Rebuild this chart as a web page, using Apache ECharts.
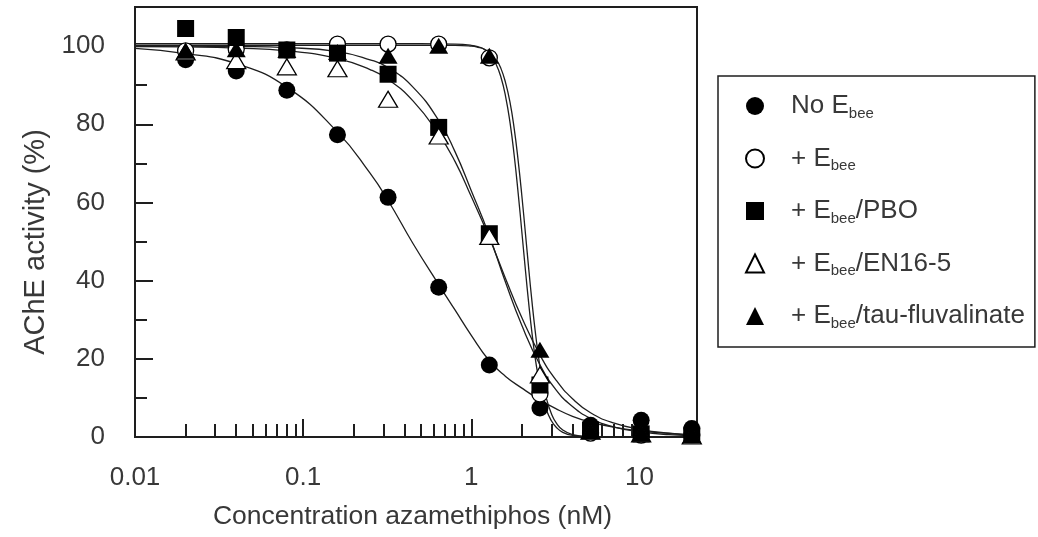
<!DOCTYPE html>
<html>
<head>
<meta charset="utf-8">
<script src="https://cdn.jsdelivr.net/npm/echarts@6/dist/echarts.min.js"></script>
<style>
  html, body { margin: 0; padding: 0; background: #ffffff; }
  #chart { width: 1038px; height: 537px; }
</style>
</head>
<body>
<div id="chart"></div>
<script>
// Azamethiphos concentrations (nM) at which AChE activity was measured
const concentrations = [0.02, 0.04, 0.08, 0.16, 0.32, 0.64, 1.28, 2.56, 5.12, 10.24, 20.48];

// Measured AChE activity (%) per treatment
const noEbee      = [96.5, 93.6, 88.7, 77.3, 61.3, 38.3, 18.4, 7.4, 3.0, 4.3, 2.2];
const plusEbee    = [98.8, 99.2, 99.0, 100.5, 100.5, 100.5, 97.0, 11.0, 1.0, 0.5, 0.5];
const ebeePBO     = [104.5, 102.2, 99.0, 98.2, 92.8, 79.2, 52.0, 13.3, 1.8, 0.8, 0.5];
const ebeeEN165   = [98.5, 96.3, 94.7, 94.2, 86.4, 77.0, 51.3, 15.9, 1.5, 0.8, 0.3];
const ebeeTau     = [98.8, 99.2, 99.0, 98.5, 97.5, 100.1, 97.5, 22.3, 1.5, 0.8, 0.5];

// Fitted dose-response curves, sampled along the concentration axis
const fitX = [0.01, 0.02, 0.04, 0.08, 0.16, 0.25, 0.32, 0.45, 0.64, 0.8, 1.0, 1.28, 1.6, 2.0, 2.56, 3.2, 4.0, 5.12, 7.0, 10.24, 15, 22];
const fitNoEbee = [99.4, 98.1, 95.5, 89.5, 78.0, 67.5, 60.5, 49.5, 39.0, 32.5, 26.0, 19.5, 15.5, 12.5, 9.5, 7.2, 5.3, 3.8, 2.5, 1.5, 0.9, 0.5];
const fitPBO    = [100.0, 100.0, 99.9, 99.6, 98.6, 96.5, 94.5, 89.5, 81.0, 73.0, 63.0, 51.5, 39.5, 28.5, 18.5, 12.0, 7.8, 4.8, 2.6, 1.3, 0.6, 0.3];
const fitEN165  = [99.9, 99.8, 99.5, 98.8, 96.8, 94.0, 91.5, 86.0, 77.5, 70.5, 61.5, 51.0, 40.5, 30.5, 21.0, 14.5, 9.8, 6.2, 3.6, 1.9, 1.0, 0.5];

const steepX = [0.01, 0.1, 0.5, 0.8, 1.0, 1.1, 1.2, 1.3, 1.4, 1.5, 1.6, 1.7, 1.8, 1.9, 2.0, 2.1, 2.2, 2.3, 2.4, 2.5, 2.6, 2.8, 3.0, 3.2, 3.5, 4.0, 5.0, 7.0, 22];
const fitEbee = [100.6, 100.6, 100.6, 100.5, 100.2, 99.8, 99.1, 97.7, 95.5, 92.1, 87.1, 80.4, 72.0, 62.4, 52.3, 42.6, 33.8, 26.3, 20.2, 15.5, 11.8, 6.9, 4.1, 2.5, 1.2, 0.4, 0.1, 0.0, 0.0];
const fitTau  = [100.2, 100.2, 100.2, 100.2, 100.0, 99.7, 99.2, 98.2, 96.7, 94.3, 90.6, 85.6, 78.9, 70.7, 61.6, 52.0, 42.7, 34.3, 27.1, 21.1, 16.4, 9.8, 5.9, 3.6, 1.8, 0.6, 0.1, 0.0, 0.0];

// Axis ticks and labels
const xMajorTicks = [0.01, 0.1, 1, 10];
const xTickLabels = ['0.01', '0.1', '1', '10'];
const xMinorTicks = [0.02, 0.03, 0.04, 0.05, 0.06, 0.07, 0.08, 0.09,
                     0.2, 0.3, 0.4, 0.5, 0.6, 0.7, 0.8, 0.9,
                     2, 3, 4, 5, 6, 7, 8, 9, 20];
const yMajorTicks = [0, 20, 40, 60, 80, 100];
const yMinorTicks = [10, 30, 50, 70, 90];

const seriesNames = ['No Ebee', '+ Ebee', '+ Ebee/PBO', '+ Ebee/EN16-5', '+ Ebee/tau-fluvalinate'];

const FONT = 'Liberation Sans, Arial, Helvetica, sans-serif';
const INK = '#1e1e1e';
const TEXT = '#383838';

const pairs = (xs, ys) => xs.map((x, i) => [x, ys[i]]);

function fitLine(name, xs, ys) {
  return {
    name: name,
    type: 'line',
    data: pairs(xs, ys),
    showSymbol: false,
    smooth: 0.5,
    silent: true,
    z: 2,
    lineStyle: { color: INK, width: 1.3 },
    clip: true
  };
}

function points(name, ys, symbol, size, filled) {
  return {
    name: name,
    type: 'scatter',
    data: pairs(concentrations, ys),
    symbol: symbol,
    symbolSize: size,
    clip: false,
    z: 4,
    itemStyle: filled
      ? { color: '#000000', borderColor: '#000000', borderWidth: 0, opacity: 1 }
      : { color: '#ffffff', borderColor: '#000000', borderWidth: 1.3, opacity: 1 }
  };
}

const chart = echarts.init(document.getElementById('chart'), null, { renderer: 'canvas' });

const axisLineStyle = { color: INK, width: 2 };

chart.setOption({
  animation: false,
  backgroundColor: '#ffffff',
  grid: {
    left: 135, right: 341, top: 7, bottom: 100,
    show: true, borderColor: INK, borderWidth: 2, backgroundColor: 'transparent'
  },
  xAxis: [
    {
      type: 'log', logBase: 10, min: 0.01, max: 22, position: 'bottom',
      axisLine: { show: true, onZero: false, lineStyle: axisLineStyle },
      axisTick: { show: true, inside: true, length: 18, customValues: xMajorTicks, lineStyle: axisLineStyle },
      axisLabel: {
        show: true, customValues: xMajorTicks, margin: 28,
        fontFamily: FONT, fontSize: 26, color: TEXT,
        formatter: v => {
          const i = xMajorTicks.findIndex(t => Math.abs(Math.log10(t) - Math.log10(v)) < 1e-6);
          return i >= 0 ? xTickLabels[i] : '';
        }
      },
      splitLine: { show: false },
      minorTick: { show: false },
      name: 'Concentration azamethiphos (nM)',
      nameLocation: 'middle', nameGap: 66,
      nameTextStyle: { fontFamily: FONT, fontSize: 26.5, color: TEXT, padding: [0, 7, 0, 0] }
    },
    {
      type: 'log', logBase: 10, min: 0.01, max: 22, position: 'bottom',
      axisLine: { show: false },
      axisTick: { show: true, inside: true, length: 13, customValues: xMinorTicks, lineStyle: axisLineStyle },
      axisLabel: { show: false },
      splitLine: { show: false }
    }
  ],
  yAxis: [
    {
      type: 'value', min: 0, max: 110, position: 'left',
      axisLine: { show: true, onZero: false, lineStyle: axisLineStyle },
      axisTick: { show: true, inside: true, length: 18, customValues: yMajorTicks, lineStyle: axisLineStyle },
      axisLabel: {
        show: true, customValues: yMajorTicks, margin: 30,
        fontFamily: FONT, fontSize: 26, color: TEXT
      },
      splitLine: { show: false },
      name: 'AChE activity (%)',
      nameLocation: 'middle', nameGap: 84,
      nameTextStyle: { fontFamily: FONT, fontSize: 29, color: TEXT, padding: [0, 40, 0, 0] }
    },
    {
      type: 'value', min: 0, max: 110, position: 'left',
      axisLine: { show: false },
      axisTick: { show: true, inside: true, length: 12, customValues: yMinorTicks, lineStyle: axisLineStyle },
      axisLabel: { show: false },
      splitLine: { show: false }
    }
  ],
  legend: {
    orient: 'vertical',
    left: 718, top: 76,
    padding: [17, 10, 16, 27],
    itemWidth: 18, itemHeight: 18, itemGap: 24.5,
    borderColor: INK, borderWidth: 1.5,
    selectedMode: false,
    data: seriesNames,
    formatter: name => {
      const parts = name.split('Ebee');
      return '{p|}{m|' + parts[0] + 'E}{s|bee}' + (parts[1] ? '{m|' + parts[1] + '}' : '');
    },
    textStyle: {
      fontFamily: FONT, fontSize: 26, color: TEXT,
      rich: {
        p: { width: 22, height: 30 },
        m: { fontFamily: FONT, fontSize: 26, color: TEXT, lineHeight: 30, verticalAlign: 'middle' },
        s: { fontFamily: FONT, fontSize: 15, color: TEXT, lineHeight: 16, verticalAlign: 'bottom' }
      }
    }
  },
  series: [
    fitLine('fit No Ebee', fitX, fitNoEbee),
    fitLine('fit + Ebee', steepX, fitEbee),
    fitLine('fit + Ebee/PBO', fitX, fitPBO),
    fitLine('fit + Ebee/EN16-5', fitX, fitEN165),
    fitLine('fit + Ebee/tau-fluvalinate', steepX, fitTau),
    points(seriesNames[0], noEbee, 'circle', 17, true),
    points(seriesNames[1], plusEbee, 'circle', 16, false),
    points(seriesNames[2], ebeePBO, 'rect', 17, true),
    points(seriesNames[3], ebeeEN165, 'triangle', [19, 16], false),
    points(seriesNames[4], ebeeTau, 'triangle', [19, 16], true)
  ]
});
</script>
</body>
</html>
